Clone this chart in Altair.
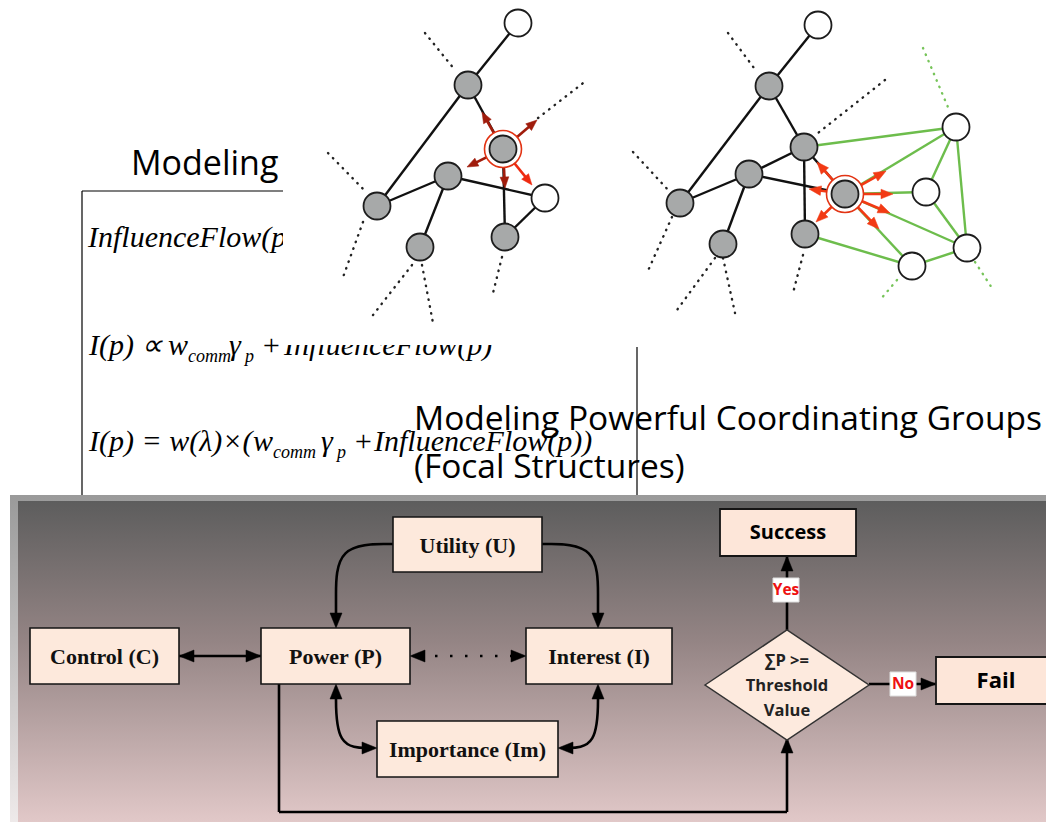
import math
import altair as alt
import pandas as pd

# ---------------- canvas (pixel coordinate system of the picture) ----------------
W, H = 1038, 814
X0, Y0 = 8, 8
XS = alt.Scale(domain=[X0, X0 + W], nice=False, zero=False)
YS = alt.Scale(domain=[Y0, Y0 + H], nice=False, zero=False, reverse=True)


def X(f):
    return alt.X(f, type="quantitative", scale=XS, axis=None)


def Y(f):
    return alt.Y(f, type="quantitative", scale=YS, axis=None)


# ---------------- texts ----------------
TOP_TITLE = ["Modeling"]
TOP_TITLE_X = [131]
TOP_TITLE_Y = [175]

MAIN_TITLE = ["Modeling Powerful Coordinating Groups", "(Focal Structures)"]
MAIN_TITLE_X = [414, 414]
MAIN_TITLE_Y = [430, 478]

# formula pieces: text, x, baseline y, size
FORM_TEXT = ["InfluenceFlow(p) = ",
             "I(p) \u221d", "w", "comm", "\u03b3", "p", "+", "InfluenceFlow(p)",
             "I(p) = w(\u03bb)\u00d7(", "w", "comm", "\u03b3", "p", "+", "InfluenceFlow(p))"]
FORM_X = [88,
          89, 168, 188, 229, 245, 261, 284,
          89, 253, 273, 321, 337, 353, 374]
FORM_Y = [247,
          355, 355, 362, 355, 362, 355, 355,
          451, 451, 458, 451, 458, 451, 451]
FORM_SIZE = [30,
             30, 30, 18, 30, 18, 30, 30,
             30, 30, 18, 30, 18, 30, 30]

# frame lines of the formula box: x1, y1, x2, y2
FRAME = [(82, 191, 637, 191), (82, 191, 82, 496), (637, 347, 637, 496)]

# white picture area covering the formula box (the network pictures)
COVER = [(283, 0, 1054, 345)]

# ---------------- left network ----------------
L_NODE_X = [518, 468, 503, 448, 377, 545, 420, 505]
L_NODE_Y = [23, 85, 149, 176, 206, 198, 247, 237]
L_NODE_FILL = ["#ffffff", "#a7a9a9", "#a7a9a9", "#a7a9a9", "#a7a9a9", "#ffffff", "#a7a9a9", "#a7a9a9"]
L_CENTER = 2
L_EDGES = [(0, 1), (1, 4), (4, 3), (3, 5), (3, 6), (7, 5), (2, 7), (1, 2)]
L_DOTS = [(425, 33, 455, 70), (538, 118, 587, 80), (328, 153, 367, 193), (363, 222, 342, 280),
          (412, 265, 373, 315), (422, 265, 433, 323), (502, 257, 492, 297)]
L_ARROW_TIP = [(482, 112), (537, 120), (467, 167), (505, 188), (532, 185)]
L_ARROW_COL = ["#a01c0c", "#a01c0c", "#a01c0c", "#a01c0c", "#ee2a10"]

# ---------------- right network ----------------
R_NODE_X = [818, 769, 804, 749, 680, 723, 805, 845, 956, 926, 967, 912]
R_NODE_Y = [25, 86, 147, 174, 203, 244, 234, 194, 127, 192, 248, 266]
R_NODE_FILL = ["#ffffff", "#a7a9a9", "#a7a9a9", "#a7a9a9", "#a7a9a9", "#a7a9a9", "#a7a9a9",
               "#a7a9a9", "#ffffff", "#ffffff", "#ffffff", "#ffffff"]
R_CENTER = 7
R_EDGES = [(0, 1), (1, 4), (1, 2), (2, 3), (3, 4), (3, 5), (3, 7), (2, 6), (2, 7)]
R_GREEN = [(2, 8), (8, 9), (8, 10), (9, 10), (10, 11), (11, 6), (7, 8), (7, 9), (7, 10), (7, 11)]
R_DOTS = [(728, 33, 757, 72), (885, 80, 818, 133), (633, 152, 670, 192), (672, 217, 647, 273),
          (715, 258, 677, 310), (723, 258, 735, 313), (803, 255, 793, 293)]
R_GREEN_DOTS = [(923, 48, 950, 112), (975, 262, 992, 288), (897, 280, 880, 300)]
R_ARROW_TIP = [(817, 162), (809, 189), (816, 222), (886, 171), (893, 194), (890, 213), (879, 229)]

# ---------------- flowchart ----------------
BOX_LABEL = ["Utility (U)", "Control (C)", "Power (P)", "Interest (I)", "Importance (Im)"]
BOX_X1 = [393, 30, 261, 526, 377]
BOX_X2 = [542, 179, 410, 672, 558]
BOX_Y1 = [517, 628, 628, 628, 721]
BOX_Y2 = [572, 684, 684, 684, 777]

END_LABEL = ["Success", "Fail"]
END_X1 = [720, 936]
END_X2 = [856, 1060]
END_Y1 = [509, 657]
END_Y2 = [556, 704]
END_TEXT_X = [788, 996]
END_SIZE = [20, 22]

DIAMOND_CX, DIAMOND_CY, DIAMOND_HW, DIAMOND_HH = 787, 685, 82, 55
DIAMOND_TEXT = ["\u2211P >=", "Threshold", "Value"]
DIAMOND_TEXT_Y = [661, 686, 711]

# straight connectors x1, y1, x2, y2
FC_LINES = [(179, 656, 261, 656), (279, 684, 279, 812), (279, 812, 787, 812), (787, 812, 787, 740),
            (787, 630, 787, 556), (869, 684, 936, 684)]
FC_DOTTED = [(420, 656, 516, 656)]
# curved connectors (control points)
FC_CURVES = [
    [(393, 544), (336, 544), (336, 600), (336, 622)],
    [(542, 544), (598, 544), (598, 600), (598, 622)],
    [(336, 690), (336, 748), (372, 748)],
    [(598, 690), (598, 748), (563, 748)],
]
# arrow heads: tip x, tip y, direction (deg clockwise from up)
FC_HEADS = [(179, 656, 270), (261, 656, 90), (410, 656, 270), (526, 656, 90),
            (336, 628, 180), (598, 628, 180), (336, 684, 0), (377, 748, 90),
            (598, 684, 0), (558, 748, 270), (787, 738, 0), (787, 556, 0), (936, 684, 90)]

TAG_TEXT = ["Yes", "No"]
TAG_X = [786, 903]
TAG_Y = [590, 684]

# ---------------- helpers ----------------
ARROW = "M0,-1L0.8,1L-0.8,1Z"


def rule_layer(segs, **kw):
    df = pd.DataFrame(segs, columns=["x1", "y1", "x2", "y2"])
    return alt.Chart(df).mark_rule(**kw).encode(x=X("x1"), y=Y("y1"), x2="x2:Q", y2="y2:Q")


def rect_layer(x1, y1, x2, y2, **kw):
    df = pd.DataFrame({"x1": x1, "y1": y1, "x2": x2, "y2": y2})
    return alt.Chart(df).mark_rect(**kw).encode(x=X("x1"), y=Y("y1"), x2="x2:Q", y2="y2:Q")


def text_layer(xs, ys, texts, **kw):
    df = pd.DataFrame({"x": xs, "y": ys, "t": texts})
    return alt.Chart(df).mark_text(**kw).encode(x=X("x"), y=Y("y"), text="t:N")


def heads_layer(tips, length, color):
    rows = []
    for tx, ty, ang in tips:
        r = math.radians(ang)
        dx, dy = math.sin(r), -math.cos(r)
        rows.append({"x": tx - dx * length / 2, "y": ty - dy * length / 2, "a": ang % 360})
    df = pd.DataFrame(rows)
    return alt.Chart(df).mark_point(shape=ARROW, size=length ** 2, filled=True, fill=color,
                                    stroke=color, strokeWidth=0.5, opacity=1).encode(
        x=X("x"), y=Y("y"), angle=alt.Angle("a:Q", scale=None))


def direction(x1, y1, x2, y2):
    return math.degrees(math.atan2(x2 - x1, -(y2 - y1))) % 360


def network_layers(nx, ny, fill, center, edges, dots, tips, tip_cols, head_len, green=None, gdots=None):
    layers = []
    seg = [(nx[a], ny[a], nx[b], ny[b]) for a, b in edges]
    layers.append(rule_layer(dots, color="#222222", strokeWidth=2.4, strokeDash=[0.5, 6.5], strokeCap="round"))
    if gdots:
        layers.append(rule_layer(gdots, color="#77c45a", strokeWidth=2.4, strokeDash=[0.5, 6.5], strokeCap="round"))
    if green:
        gseg = [(nx[a], ny[a], nx[b], ny[b]) for a, b in green]
        layers.append(rule_layer(gseg, color="#6dbd4c", strokeWidth=2.4))
    layers.append(rule_layer(seg, color="#111111", strokeWidth=2.4))
    cx, cy = nx[center], ny[center]
    for col in sorted(set(tip_cols)):
        sel = [(tx, ty) for (tx, ty), c in zip(tips, tip_cols) if c == col]
        heads = [(tx, ty, direction(cx, cy, tx, ty)) for tx, ty in sel]
        shaft = []
        for (x2, y2) in sel:
            d = math.hypot(x2 - cx, y2 - cy)
            shaft.append((cx, cy, x2 - (x2 - cx) / d * head_len * 0.6, y2 - (y2 - cy) / d * head_len * 0.6))
        layers.append(rule_layer(shaft, color=col, strokeWidth=2.6))
        layers.append(heads_layer(heads, head_len, col))
    ring = pd.DataFrame({"x": [cx], "y": [cy]})
    layers.append(alt.Chart(ring).mark_circle(size=37 ** 2, fill="#ffffff", stroke="#e23414",
                                              strokeWidth=1.6, opacity=1).encode(x=X("x"), y=Y("y")))
    ndf = pd.DataFrame({"x": nx, "y": ny, "f": fill})
    layers.append(alt.Chart(ndf).mark_circle(size=27 ** 2, stroke="#1c1c1c", strokeWidth=1.8,
                                             opacity=1).encode(x=X("x"), y=Y("y"),
                                                               fill=alt.Fill("f:N", scale=None)))
    return layers


# ---------------- build ----------------
layers = []

# formula box
layers.append(rule_layer(FRAME, color="#000000", strokeWidth=1.2))
for t, x, y, s in zip(FORM_TEXT, FORM_X, FORM_Y, FORM_SIZE):
    layers.append(text_layer([x], [y], [t], align="left", baseline="alphabetic", font="Liberation Serif",
                             fontStyle="italic", fontSize=s, color="#000000"))
layers.append(text_layer(TOP_TITLE_X, TOP_TITLE_Y, TOP_TITLE, align="left", baseline="alphabetic",
                         font="Open Sans", fontSize=34, color="#000000"))

# white picture area
layers.append(rect_layer([c[0] for c in COVER], [c[1] for c in COVER], [c[2] for c in COVER],
                         [c[3] for c in COVER], fill="#ffffff"))

# networks
layers += network_layers(L_NODE_X, L_NODE_Y, L_NODE_FILL, L_CENTER, L_EDGES, L_DOTS,
                         L_ARROW_TIP, L_ARROW_COL, 11)
layers += network_layers(R_NODE_X, R_NODE_Y, R_NODE_FILL, R_CENTER, R_EDGES, R_DOTS,
                         R_ARROW_TIP, ["#f23a14"] * len(R_ARROW_TIP), 12,
                         green=R_GREEN, gdots=R_GREEN_DOTS)

# main title
layers.append(text_layer(MAIN_TITLE_X, MAIN_TITLE_Y, MAIN_TITLE, align="left", baseline="alphabetic",
                         font="Open Sans", fontSize=33.5, color="#000000"))

# bottom flowchart panel
layers.append(rect_layer([10], [495], [1060], [840], fill=alt.Gradient(
    gradient="linear", x1=0, x2=0, y1=0, y2=1,
    stops=[alt.GradientStop(color="#9a9a9a", offset=0), alt.GradientStop(color="#f3eeee", offset=1)])))
layers.append(rect_layer([18], [501], [1060], [840], fill=alt.Gradient(
    gradient="linear", x1=0, x2=0, y1=0, y2=1,
    stops=[alt.GradientStop(color="#5d5d5d", offset=0),
           alt.GradientStop(color="#958585", offset=0.42),
           alt.GradientStop(color="#e9cfcf", offset=1)])))

# connectors
layers.append(rule_layer(FC_LINES, color="#000000", strokeWidth=2.6))
layers.append(rule_layer(FC_DOTTED, color="#000000", strokeWidth=2.6, strokeDash=[2.5, 12.5]))
crows = []
for i, pts in enumerate(FC_CURVES):
    for j, (x, y) in enumerate(pts):
        crows.append({"id": i, "o": j, "x": x, "y": y})
layers.append(alt.Chart(pd.DataFrame(crows)).mark_line(interpolate="basis", color="#000000",
                                                      strokeWidth=2.6).encode(
    x=X("x"), y=Y("y"), detail="id:N", order="o:Q"))
layers.append(heads_layer(FC_HEADS, 15, "#000000"))

# boxes
layers.append(rect_layer(BOX_X1, BOX_Y1, BOX_X2, BOX_Y2, fill="#fde9dc", stroke="#151515", strokeWidth=1.6))
layers.append(rect_layer(END_X1, END_Y1, END_X2, END_Y2, fill="#fde6d9", stroke="#151515", strokeWidth=1.8))
dia = pd.DataFrame({"x": [DIAMOND_CX], "y": [DIAMOND_CY]})
hh = DIAMOND_HH / DIAMOND_HW
layers.append(alt.Chart(dia).mark_point(shape=f"M-1,0L0,{-hh:.3f}L1,0L0,{hh:.3f}Z", size=(2 * DIAMOND_HW) ** 2,
                                        filled=True, fill="#fdeade", stroke="#333333", strokeWidth=1.5,
                                        opacity=1).encode(x=X("x"), y=Y("y")))

# box texts
layers.append(text_layer([(a + b) / 2 for a, b in zip(BOX_X1, BOX_X2)],
                         [(a + b) / 2 + 1 for a, b in zip(BOX_Y1, BOX_Y2)], BOX_LABEL,
                         align="center", baseline="middle", font="Liberation Serif", fontWeight="bold",
                         fontSize=22, color="#111111"))
layers.append(text_layer(END_TEXT_X[:1], [(END_Y1[0] + END_Y2[0]) / 2], END_LABEL[:1], align="center",
                         baseline="middle", font="Open Sans", fontWeight="bold", fontSize=END_SIZE[0],
                         color="#000000"))
layers.append(text_layer(END_TEXT_X[1:], [(END_Y1[1] + END_Y2[1]) / 2], END_LABEL[1:], align="center",
                         baseline="middle", font="Open Sans", fontWeight="bold", fontSize=END_SIZE[1],
                         color="#000000"))
layers.append(text_layer([DIAMOND_CX] * 3, DIAMOND_TEXT_Y, DIAMOND_TEXT, align="center", baseline="middle",
                         font="Open Sans", fontWeight="bold", fontSize=16.5, color="#222222"))

# yes / no tags
layers.append(rect_layer([x - 13 for x in TAG_X], [y - 12 for y in TAG_Y], [x + 13 for x in TAG_X],
                         [y + 12 for y in TAG_Y], fill="#ffffff", stroke="#dddddd", strokeWidth=1))
layers.append(text_layer(TAG_X, TAG_Y, TAG_TEXT, align="center", baseline="middle", font="Open Sans",
                         fontWeight="bold", fontSize=15.5, color="#ee1111"))

chart = alt.layer(*layers).properties(
    width=W, height=H, padding=0, autosize=alt.AutoSizeParams(type="none"), background="#ffffff"
).configure_view(stroke=None)

chart.save("out.html", embed_options={"renderer": "svg", "actions": False})
